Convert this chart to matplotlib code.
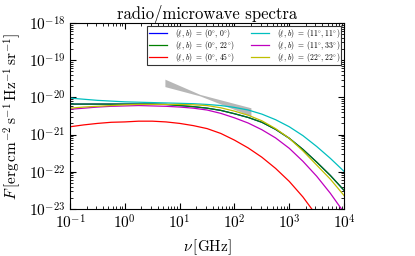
import numpy as np
import matplotlib
matplotlib.use("Agg")
import matplotlib.pyplot as plt
from matplotlib.ticker import LogLocator, NullFormatter

plt.rcParams["font.family"] = "serif"
plt.rcParams["font.serif"] = ["cmr10"]
plt.rcParams["mathtext.fontset"] = "cm"
plt.rcParams["axes.formatter.use_mathtext"] = True
plt.rcParams["axes.unicode_minus"] = False

# log10 of frequency in GHz where curves were read (quarter decades)
lognu = [-1, -0.75, -0.5, -0.25, 0, 0.25, 0.5, 0.75, 1, 1.25, 1.5,
         1.75, 2, 2.25, 2.5, 2.75, 3, 3.25, 3.5, 3.75, 4]
lognu_red = lognu[:19]

# log10 of F for each sky position
F_00 = [-20.18, -20.18, -20.18, -20.18, -20.18, -20.18, -20.18, -20.19, -20.22, -20.25, -20.29,
        -20.35, -20.44, -20.54, -20.67, -20.86, -21.10, -21.40, -21.74, -22.10, -22.50]
F_022 = [-20.18, -20.18, -20.18, -20.18, -20.18, -20.18, -20.18, -20.19, -20.22, -20.25, -20.29,
         -20.35, -20.44, -20.54, -20.67, -20.86, -21.10, -21.40, -21.74, -22.10, -22.50]
F_045 = [-20.79, -20.74, -20.70, -20.67, -20.66, -20.64, -20.64, -20.66, -20.70, -20.76, -20.84,
         -20.97, -21.15, -21.36, -21.61, -21.91, -22.26, -22.68, -23.18]
F_1111 = [-20.02, -20.05, -20.08, -20.10, -20.12, -20.13, -20.14, -20.15, -20.16, -20.17, -20.19,
          -20.22, -20.27, -20.34, -20.45, -20.60, -20.79, -21.03, -21.32, -21.64, -21.99]
F_1133 = [-20.32, -20.29, -20.26, -20.24, -20.23, -20.22, -20.23, -20.24, -20.26, -20.29, -20.34,
          -20.43, -20.55, -20.69, -20.87, -21.09, -21.37, -21.72, -22.12, -22.58, -23.10]
F_2222 = [-20.29, -20.26, -20.24, -20.22, -20.20, -20.19, -20.19, -20.19, -20.19, -20.20, -20.22,
          -20.28, -20.37, -20.48, -20.63, -20.84, -21.10, -21.44, -21.82, -22.20, -22.64]

# grey band (observed range)
band_lognu = [0.73, 1.37, 2.30]
band_hi = [-19.51, -19.92, -20.28]
band_lo = [-19.71, -19.96, -20.50]

labels = [r"$(\ell,\,b)\;=\;(0^{\circ},\,0^{\circ})$",
          r"$(\ell,\,b)\;=\;(0^{\circ},\,22^{\circ})$",
          r"$(\ell,\,b)\;=\;(0^{\circ},\,45^{\circ})$",
          r"$(\ell,\,b)\;=\;(11^{\circ},\,11^{\circ})$",
          r"$(\ell,\,b)\;=\;(11^{\circ},\,33^{\circ})$",
          r"$(\ell,\,b)\;=\;(22^{\circ},\,22^{\circ})$"]
colors = ["#0000ff", "#008000", "#ff0000", "#00bfbf", "#bf00bf", "#bfbf00"]

fig = plt.figure(figsize=(4.15, 2.56), dpi=100)
ax = fig.add_axes([0.169, 0.184, 0.66, 0.726])

bx = 10 ** np.array(band_lognu)
ax.fill_between(bx, 10 ** np.array(band_lo), 10 ** np.array(band_hi),
                color="0.6", alpha=0.7, lw=0)

series = [(lognu, F_00), (lognu, F_022), (lognu_red, F_045),
          (lognu, F_1111), (lognu, F_1133), (lognu, F_2222)]
for (x, y), c, lab in zip(series, colors, labels):
    ax.plot(10 ** np.array(x), 10 ** np.array(y), color=c, lw=0.9, label=lab)

ax.set_xscale("log")
ax.set_yscale("log")
ax.set_xlim(1e-1, 1e4)
ax.set_ylim(1e-23, 1e-18)
ax.yaxis.set_major_locator(LogLocator(base=10, numticks=10))
ax.yaxis.set_minor_locator(LogLocator(base=10, subs=np.arange(2, 10), numticks=20))
ax.yaxis.set_minor_formatter(NullFormatter())
ax.tick_params(which="both", direction="in", top=True, right=True, labelsize=11)
ax.tick_params(which="major", length=4)
ax.tick_params(which="minor", length=2)

ax.set_xlabel(r"$\nu\,[\mathrm{GHz}]$", fontsize=11)
ax.set_ylabel(r"$F\,[\mathrm{erg\,cm^{-2}\,s^{-1}\,Hz^{-1}\,sr^{-1}}]$", fontsize=11)
ax.set_title("radio/microwave spectra", fontsize=12, pad=3)

leg = ax.legend(loc="upper right", ncol=2, fontsize=5.5, fancybox=False,
                edgecolor="0.2", framealpha=1, handlelength=2.4,
                columnspacing=2.2, labelspacing=-0.12, borderpad=0.15,
                borderaxespad=0.35, handletextpad=1.0)
leg.get_frame().set_linewidth(0.8)

fig.savefig("out.png", dpi=100)
